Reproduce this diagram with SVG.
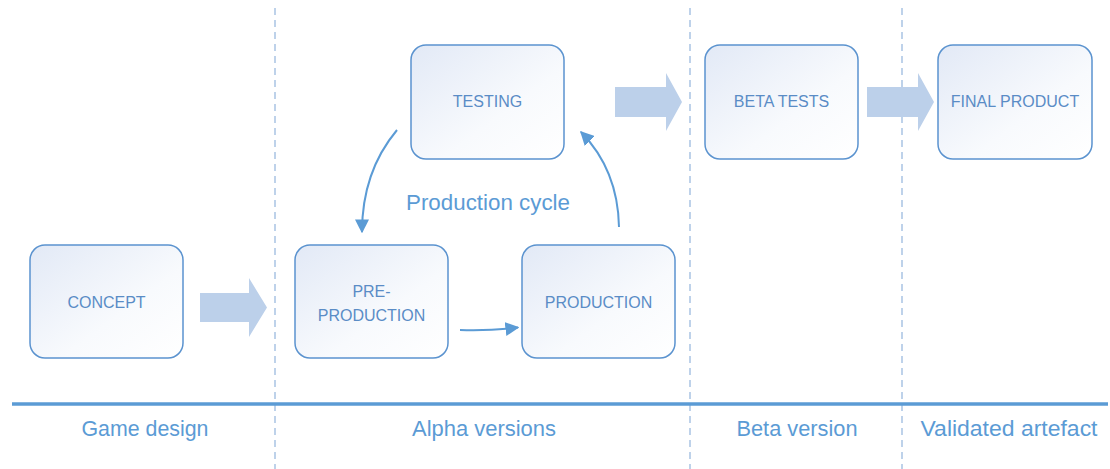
<svg xmlns="http://www.w3.org/2000/svg" width="1110" height="469" viewBox="0 0 1110 469">
<defs>
<linearGradient id="boxfill" x1="0" y1="0" x2="1" y2="1">
<stop offset="0" stop-color="#e2e9f6"/>
<stop offset="0.6" stop-color="#f8fafd"/>
<stop offset="1" stop-color="#ffffff"/>
</linearGradient>
<marker id="ah" viewBox="0 0 10 10" refX="9" refY="5" markerWidth="14" markerHeight="14" markerUnits="userSpaceOnUse" orient="auto">
<path d="M0,0 L10,5 L0,10 z" fill="#5b9bd5"/>
</marker>
<style>
.box{fill:url(#boxfill);stroke:#5b93cf;stroke-width:1.5}
.lbl{font-family:"Liberation Sans",Arial,sans-serif;font-size:16px;fill:#5a8cc6;text-anchor:middle}
.phase{font-family:"Liberation Sans",Arial,sans-serif;font-size:22px;fill:#5b9bd5;text-anchor:middle}
.dash{stroke:#a9c3e3;stroke-width:1.5;stroke-dasharray:7 5;fill:none}
.big{fill:#bcd0ea}
.conn{stroke:#5b9bd5;stroke-width:2;fill:none;marker-end:url(#ah)}
</style>
</defs>
<rect width="1110" height="469" fill="#ffffff"/>
<g id="dividers">
<line class="dash" x1="275" y1="8" x2="275" y2="469"/>
<line class="dash" x1="690" y1="8" x2="690" y2="469"/>
<line class="dash" x1="902" y1="8" x2="902" y2="469"/>
</g>
<line id="timeline" x1="12" y1="404" x2="1108" y2="404" stroke="#5b9bd5" stroke-width="3.5"/>
<g id="phases">
<text class="phase" x="145" y="436" textLength="127" lengthAdjust="spacingAndGlyphs">Game design</text>
<text class="phase" x="484" y="436" textLength="144" lengthAdjust="spacingAndGlyphs">Alpha versions</text>
<text class="phase" x="797" y="436" textLength="121" lengthAdjust="spacingAndGlyphs">Beta version</text>
<text class="phase" x="1009" y="436" textLength="177" lengthAdjust="spacingAndGlyphs">Validated artefact</text>
</g>
<g id="connectors">
<path class="big" d="M200,293 L249,293 L249,278 L267,307.5 L249,337 L249,322 L200,322 z"/>
<path class="big" d="M615,87 L666,87 L666,73 L682,102 L666,131 L666,117 L615,117 z"/>
<path class="big" d="M867,87 L918,87 L918,73 L934,102 L918,131 L918,117 L867,117 z"/>
<path class="conn" d="M397,130 Q362,172 362,232"/>
<path class="conn" d="M619,227 Q618,170 581,132"/>
<path class="conn" d="M460,330 Q490,331 518,327.5"/>
<text class="phase" x="488" y="210" textLength="164" lengthAdjust="spacingAndGlyphs">Production cycle</text>
</g>
<g id="concept">
<rect class="box" x="30" y="245" width="153" height="113" rx="15"/>
<text class="lbl" x="106.5" y="308">CONCEPT</text>
</g>
<g id="testing">
<rect class="box" x="411" y="45" width="153" height="114" rx="15"/>
<text class="lbl" x="487.5" y="107">TESTING</text>
</g>
<g id="preproduction">
<rect class="box" x="295" y="245" width="153" height="113" rx="15"/>
<text class="lbl" x="371.5" y="297">PRE-</text>
<text class="lbl" x="371.5" y="321">PRODUCTION</text>
</g>
<g id="production">
<rect class="box" x="522" y="245" width="153" height="113" rx="15"/>
<text class="lbl" x="598.5" y="308">PRODUCTION</text>
</g>
<g id="betatests">
<rect class="box" x="705" y="45" width="153" height="114" rx="15"/>
<text class="lbl" x="781.5" y="107">BETA TESTS</text>
</g>
<g id="finalproduct">
<rect class="box" x="938" y="45" width="154" height="114" rx="15"/>
<text class="lbl" x="1015" y="107">FINAL PRODUCT</text>
</g>
</svg>
